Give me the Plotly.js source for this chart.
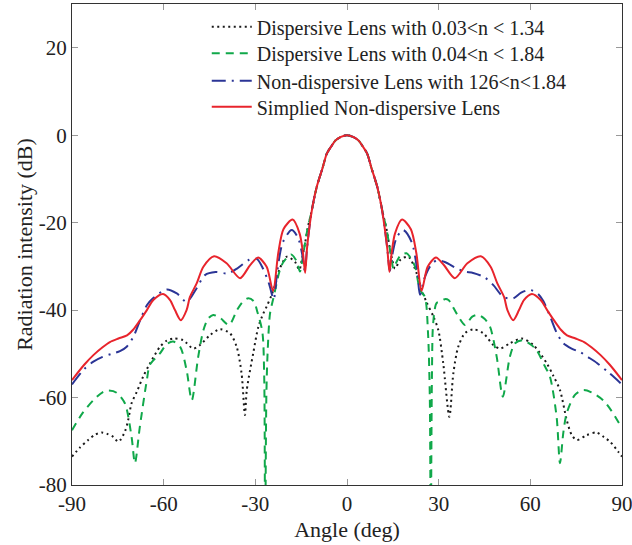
<!DOCTYPE html>
<html>
<head>
<meta charset="utf-8">
<script src="https://cdn.plot.ly/plotly-3.0.1.min.js"></script>
<style>
  html, body { margin: 0; padding: 0; background: #fff; }
  #chart { width: 632px; height: 545px; }
</style>
</head>
<body>
<div id="chart"></div>
<script>
// ---- Data ----
const seriesNames = [
  "Dispersive Lens with 0.03&lt;n &lt; 1.34",
  "Dispersive Lens with 0.04&lt;n &lt; 1.84",
  "Non-dispersive Lens with 126&lt;n&lt;1.84",
  "Simplied Non-dispersive Lens"
];

const xTicks = [-90, -60, -30, 0, 30, 60, 90];
const yTicks = [-80, -60, -40, -20, 0, 20];

// Black dotted: Dispersive Lens 0.03<n<1.34
const blackX = [-90,-87.5,-84.7,-82.5,-80.3,-78.5,-76.5,-74.8,-72.7,-71.6,-70.5,-68.8,-66.7,-64.5,-61.2,-59,-56.8,-53.6,-50.3,-48.1,-44.8,-41.6,-38.3,-36.1,-34.5,-33.4,-32.8,-30.7,-29,-27.4,-26.3,-24.7,-23,-22,-19.7,-17,-15.6,-14.8,-13.8,-12.8,-12.1,-11.2,-9.9,-8,-6.6,-5,-3.9,-2,0,
  2,3.9,5,6.6,8,9.9,11.2,12.1,12.8,13.8,14.8,15.7,17.5,20.1,22.8,24.4,26.1,28.3,29.9,31.5,33.5,34.8,36.4,38.6,41.3,44.6,47.9,50.1,53.3,57.2,61,65.4,67.5,69.7,71.9,73.5,75.2,78.4,81.7,84,86.1,88.8,90];
const blackY = [-73.5,-71.5,-69.7,-68.5,-68,-68.3,-69,-70.1,-67.8,-65.1,-61.3,-58.7,-55.2,-52.2,-48.4,-47,-46.5,-46.9,-48.8,-48,-45.7,-44.4,-45.3,-48.4,-54.5,-64,-58.3,-49.9,-43.8,-40.8,-39.2,-36.6,-33,-30.5,-27.8,-29,-30.8,-28.5,-25,-21,-19,-16,-11.8,-7.5,-4.2,-2.4,-1.3,-0.4,0,
  -0.4,-1.3,-2.4,-4.2,-7.5,-11.8,-16,-19,-21,-25,-28.5,-30.5,-28.5,-27.8,-31.6,-35.4,-38.3,-41.5,-44.6,-52.2,-64.4,-54.5,-48.4,-45.3,-44.4,-45.3,-48,-48.8,-47.6,-46.5,-48,-52.2,-55,-58.3,-65.1,-68.5,-69.7,-68.6,-68,-69,-70.1,-72.4,-73.5];

// Green dashed: Dispersive Lens 0.04<n<1.84
const greenX = [-90,-86.5,-83,-80,-78.1,-75.4,-72.7,-70.5,-69.4,-67.8,-65.5,-64.5,-61.2,-59,-56.9,-54.6,-52.5,-50.8,-48.7,-47,-45.5,-43.8,-41.5,-38.6,-36,-34,-32.3,-30.5,-29.3,-27.7,-27.1,-26.8,-26.4,-26,-25.2,-24.1,-22,-20.8,-18.3,-16.5,-15.4,-14.6,-13.8,-12.8,-12.1,-11.2,-9.9,-8,-6.6,-5,-3.9,-2,0,
  2,3.9,5,6.6,8,9.9,11.2,12.1,12.8,13.8,14.6,15.2,16.2,17.5,19.5,21,22.3,23.9,25.5,26.5,27.1,27.4,27.8,28.2,29.3,30.4,32,33.2,35.9,38.6,41,43,45,46.8,49,51,53.3,55,57.6,60,62,64.5,66.4,68.6,69.7,70.8,71.9,74.6,77.3,80,83.8,86.5,88.7,90];
const greenY = [-67.5,-63.5,-60.6,-58.8,-58.4,-58.9,-61.3,-69,-75,-66.7,-56,-52.5,-49.9,-47.8,-47.2,-48.4,-53.7,-60.6,-50.7,-44.6,-42,-41.1,-41.8,-43.4,-40,-38,-37.3,-38,-40.5,-45,-55,-95,-60,-50,-40.8,-37.3,-30.9,-29,-27.3,-28.8,-31.2,-28.5,-25,-21,-19,-16,-11.8,-7.5,-4.2,-2.4,-1.3,-0.4,0,
  -0.4,-1.3,-2.4,-4.2,-7.5,-11.8,-16,-19,-21,-25,-28.5,-30.5,-29,-27.5,-27,-28.3,-30.1,-35.4,-37,-45,-60,-95,-55,-43,-38.4,-38.1,-37.5,-37.7,-40.8,-43.4,-41.5,-41.1,-42,-43.8,-50.7,-59.8,-50.7,-47.6,-46.9,-47.8,-49.1,-52.5,-55.2,-64.4,-75,-68,-63.6,-59.4,-58.3,-58.8,-60.6,-63,-65.5,-67];

// Blue dash-dot: Non-dispersive Lens 1.26<n<1.84
const blueX = [-90,-86,-83,-80,-77,-74.3,-72.1,-69.9,-67.7,-65.5,-63.5,-59,-55.7,-52.5,-49.2,-46.5,-43,-39,-36,-32,-29.5,-27.5,-25.5,-24,-22.8,-21,-18.1,-16,-14.6,-13.8,-13.1,-12.3,-11.2,-9.9,-8,-6.6,-5,-3.9,-2,0,
  2,3.9,5,6.6,8,9.9,11.2,12.3,13.2,14,14.8,16.2,18.4,21.2,22.8,23.9,25.2,27.2,29.4,32,36,38.5,41.3,45,47.9,51.2,54.4,57,60,62.5,64.3,66.5,68.5,70.8,73.5,76.3,79,81.8,86,90];
const blueY = [-57,-53.5,-51.8,-50.7,-50,-49.4,-48.4,-46.1,-42.3,-38.9,-37.3,-35.3,-36.2,-38.1,-35,-32,-31.3,-31.6,-30.5,-28.5,-28.3,-30.5,-34,-37.5,-31,-24.5,-21.7,-23.5,-27.5,-31,-26,-21,-16,-11.8,-7.5,-4.2,-2.4,-1.3,-0.4,0,
  -0.4,-1.3,-2.4,-4.2,-7.5,-11.8,-16,-21,-26,-31,-27.5,-23.5,-21.7,-24.5,-30,-36.5,-33,-30,-28.6,-29,-30.5,-31.2,-31.5,-32.5,-34.3,-37,-37.3,-36,-35.4,-36.3,-38,-41.5,-45,-47.6,-48.8,-49.6,-50.8,-52.1,-54.5,-57];

// Red solid: Simplied Non-dispersive Lens
const redX = [-90,-86,-83,-80,-77.6,-74.8,-72,-70,-67.7,-65.5,-63.4,-60.2,-57.9,-56.3,-54.4,-52.5,-51.4,-49.2,-47,-43.5,-39.4,-35,-31.7,-29.1,-26.3,-24.2,-22.5,-20.8,-17.8,-15.5,-14.4,-13.7,-13.1,-12.3,-11.2,-9.9,-8,-6.6,-5,-3.9,-2,0,
  2,3.9,5,6.6,8,9.9,11.2,12.3,13.2,13.9,14.6,15.7,18,20.9,22.7,24.4,26.4,29.1,31.7,35.3,39.4,43.8,47,49.2,51.4,52.5,54.4,56.3,57.9,60.5,63.4,65.5,67.7,70,72,74.8,77.6,80,83,86,90];
const redY = [-56,-52.5,-50.3,-48.5,-47.3,-46.5,-45.8,-44.5,-42.3,-40,-37.7,-36.3,-37.7,-40,-42.3,-40,-37,-33.9,-30.1,-27.7,-29.3,-32.7,-29.7,-28,-30.1,-35.6,-27,-21.5,-19.3,-22.5,-27,-31.5,-26,-21,-16,-11.8,-7.5,-4.2,-2.4,-1.3,-0.4,0,
  -0.4,-1.3,-2.4,-4.2,-7.5,-11.8,-16,-21,-26,-31.3,-27,-22.5,-19.3,-21.5,-27,-35.6,-30.1,-28,-29.7,-32.7,-29.3,-27.7,-30.1,-33.9,-37,-40,-42.3,-40,-37.7,-36.3,-37.7,-40,-42.3,-44.5,-45.8,-46.5,-47.3,-48.5,-50.3,-52.5,-56];

// ---- Styles ----
const serif = "'Liberation Serif', 'Times New Roman', serif";
const textColor = "#222";

const traces = [
  { x: blackX, y: blackY, name: seriesNames[0], type: "scatter", mode: "lines", legend: "legend",
    line: { color: "#1a1a1a", width: 2, dash: "2px,3.5px", shape: "spline", smoothing: 0.8 } },
  { x: greenX, y: greenY, name: seriesNames[1], type: "scatter", mode: "lines", legend: "legend2",
    line: { color: "#10a84a", width: 2, dash: "8px,6px", shape: "spline", smoothing: 0.8 } },
  { x: blueX, y: blueY, name: seriesNames[2], type: "scatter", mode: "lines", legend: "legend3",
    line: { color: "#2b3596", width: 2, dash: "14px,6px,2px,6px", shape: "spline", smoothing: 0.8 } },
  { x: redX, y: redY, name: seriesNames[3], type: "scatter", mode: "lines", legend: "legend4",
    line: { color: "#e8242c", width: 2, shape: "spline", smoothing: 0.8 } }
];

function legendAt(yPaper) {
  return {
    x: 0.245, y: yPaper, xanchor: "left", yanchor: "middle",
    bgcolor: "rgba(0,0,0,0)", borderwidth: 0, itemwidth: 40,
    font: { family: serif, size: 20, color: textColor }
  };
}

const layout = {
  width: 632, height: 545,
  margin: { l: 72, r: 10, t: 4, b: 60 },
  paper_bgcolor: "#fff", plot_bgcolor: "#fff",
  font: { family: serif, size: 21, color: textColor },
  showlegend: true,
  legend: legendAt(0.9528),
  legend2: legendAt(0.8975),
  legend3: legendAt(0.8405),
  legend4: legendAt(0.7865),
  xaxis: {
    range: [-90, 90], tickvals: xTicks, ticktext: xTicks.map(String),
    ticks: "inside", ticklen: 6, tickcolor: "#999", tickwidth: 1,
    showline: true, linecolor: "#333", linewidth: 1, mirror: "ticks",
    showgrid: false, zeroline: false, ticklabeloverflow: "allow",
    tickfont: { family: serif, size: 21, color: textColor },
    title: { text: "Angle (deg)", font: { family: serif, size: 22, color: textColor }, standoff: 6 }
  },
  yaxis: {
    range: [-80, 30], tickvals: yTicks, ticktext: yTicks.map(String),
    ticks: "inside", ticklen: 6, tickcolor: "#999", tickwidth: 1,
    showline: true, linecolor: "#333", linewidth: 1, mirror: "ticks",
    showgrid: false, zeroline: false, ticklabeloverflow: "allow",
    tickfont: { family: serif, size: 21, color: textColor },
    title: { text: "Radiation intensity (dB)", font: { family: serif, size: 22, color: textColor }, standoff: 0 }
  }
};

Plotly.newPlot("chart", traces, layout, { staticPlot: true, displayModeBar: false });
</script>
</body>
</html>
